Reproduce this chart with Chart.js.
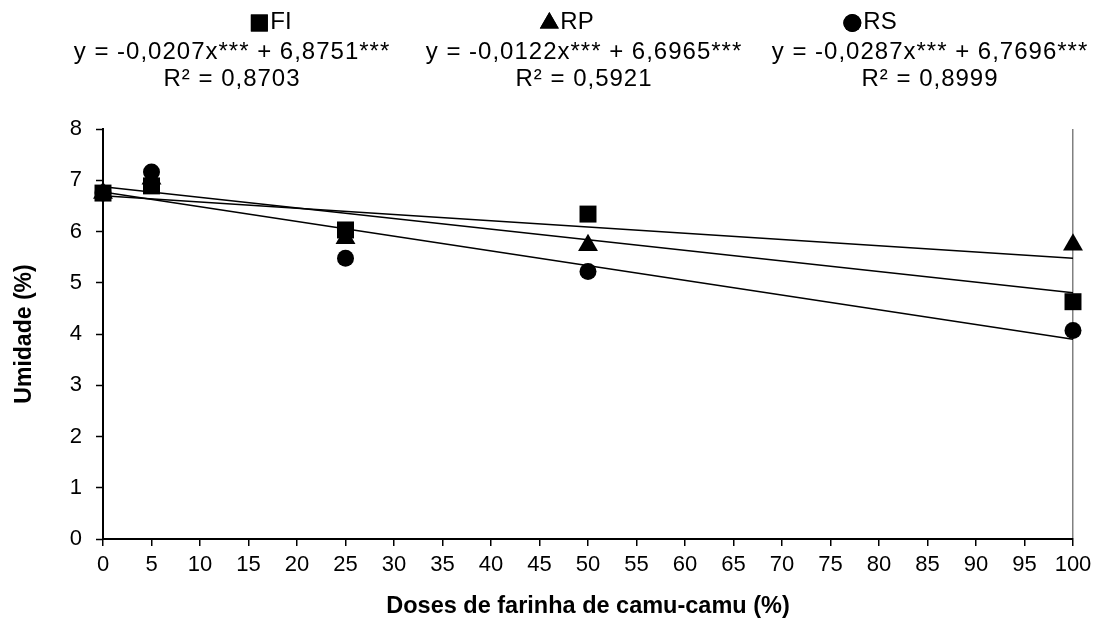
<!DOCTYPE html>
<html>
<head>
<meta charset="utf-8">
<script src="https://cdn.jsdelivr.net/npm/chart.js@4.4.1/dist/chart.umd.min.js"></script>
<style>
  html, body { margin: 0; padding: 0; background: #fff; }
</style>
</head>
<body>
<canvas id="umidadeChart" width="1099" height="628"></canvas>
<script>
// observed values (moisture, %)
const doses = [0, 5, 25, 50, 100];
const umidadeFI = [6.75, 6.89, 6.03, 6.34, 4.63];
const umidadeRP = [6.75, 7.03, 5.87, 5.73, 5.74];
const umidadeRS = [6.75, 7.16, 5.48, 5.22, 4.07];

// fitted lines, endpoints at dose 0 and 100
const trendDoses = [0, 100];
const trendFI = [6.8751, 4.8051];
const trendRP = [6.6965, 5.4765];
const trendRS = [6.7696, 3.8996];

const seriesNames = ['FI', 'RP', 'RS'];
const equations = [
  'y = -0,0207x*** + 6,8751***',
  'y = -0,0122x*** + 6,6965***',
  'y = -0,0287x*** + 6,7696***'
];
const rSquared = ['R² = 0,8703', 'R² = 0,5921', 'R² = 0,8999'];

const FONT = 'Arial, "Liberation Sans", sans-serif';

function toPoints(xs, ys) {
  return xs.map((x, i) => ({ x: x, y: ys[i] }));
}

// header with markers, names and equations above the plot
const headerPlugin = {
  id: 'header',
  afterDraw(chart) {
    const ctx = chart.ctx;
    const styles = ['rect', 'triangle', 'circle'];
    const radii = [12, 11, 9];
    const nameCenters = [270, 566, 869];
    const eqCenters = [232, 584, 930];
    ctx.save();
    ctx.fillStyle = '#000';
    ctx.textBaseline = 'middle';
    for (let i = 0; i < 3; i++) {
      ctx.font = '24px ' + FONT;
      ctx.letterSpacing = '0px';
      const nameW = ctx.measureText(seriesNames[i]).width;
      const markW = 20;
      const startX = nameCenters[i] - (markW + nameW) / 2;
      Chart.helpers.drawPoint(ctx, { pointStyle: styles[i], radius: radii[i], rotation: 0, borderWidth: 0 }, startX + markW / 2, 23);
      ctx.fill();
      ctx.textAlign = 'left';
      ctx.fillText(seriesNames[i], startX + markW + 1, 22);

      ctx.textAlign = 'center';
      ctx.letterSpacing = '1px';
      ctx.fillText(equations[i], eqCenters[i], 52);
      ctx.fillText(rSquared[i], eqCenters[i], 79);
    }
    ctx.restore();
  }
};

const pointSet = (label, ys, style, radius, order) => ({
  label: label,
  data: toPoints(doses, ys),
  pointStyle: style,
  pointRadius: radius,
  backgroundColor: '#000',
  borderColor: '#000',
  borderWidth: 0,
  clip: false,
  order: order
});

const trendSet = (label, ys, order) => ({
  label: label,
  data: toPoints(trendDoses, ys),
  showLine: true,
  pointRadius: 0,
  borderColor: '#000',
  borderWidth: 1.5,
  clip: false,
  order: order
});

const ctx = document.getElementById('umidadeChart').getContext('2d');
const chart = new Chart(ctx, {
  type: 'scatter',
  data: {
    datasets: [
      pointSet('FI', umidadeFI, 'rect', 12, 1),
      pointSet('RP', umidadeRP, 'triangle', 11.5, 2),
      pointSet('RS', umidadeRS, 'circle', 8.5, 3),
      trendSet('FI linear', trendFI, 4),
      trendSet('RP linear', trendRP, 5),
      trendSet('RS linear', trendRS, 6)
    ]
  },
  options: {
    responsive: false,
    animation: false,
    layout: { padding: { top: 129, right: 26, left: 0, bottom: 0 } },
    plugins: {
      legend: { display: false },
      tooltip: { enabled: false }
    },
    scales: {
      x: {
        type: 'linear',
        min: 0,
        max: 100,
        afterFit(scale) { scale.height = 89; },
        ticks: {
          stepSize: 5,
          autoSkip: false,
          maxRotation: 0,
          padding: 6,
          color: '#000',
          font: { family: FONT, size: 22 }
        },
        grid: {
          drawOnChartArea: true,
          drawTicks: true,
          tickLength: 7,
          tickColor: '#000',
          tickWidth: 1.5,
          lineWidth: 1.5,
          color: (c) => (c.tick && c.tick.value === 100 ? '#808080' : 'rgba(0,0,0,0)')
        },
        border: { color: '#000', width: 2 },
        title: {
          display: true,
          text: 'Doses de farinha de camu-camu (%)',
          color: '#000',
          font: { family: FONT, size: 23.5, weight: 'bold' },
          padding: { top: 0, bottom: 7 }
        }
      },
      y: {
        min: 0,
        max: 8,
        afterFit(scale) { scale.width = 103; },
        ticks: {
          stepSize: 1,
          padding: 14,
          color: '#000',
          font: { family: FONT, size: 22 }
        },
        grid: {
          drawOnChartArea: false,
          drawTicks: true,
          tickLength: 7,
          tickColor: '#000',
          tickWidth: 1.5
        },
        border: { color: '#000', width: 2 },
        title: {
          display: true,
          text: 'Umidade (%)',
          color: '#000',
          font: { family: FONT, size: 23, weight: 'bold' },
          padding: { top: 11, bottom: 0 }
        }
      }
    }
  },
  plugins: [headerPlugin]
});
</script>
</body>
</html>
